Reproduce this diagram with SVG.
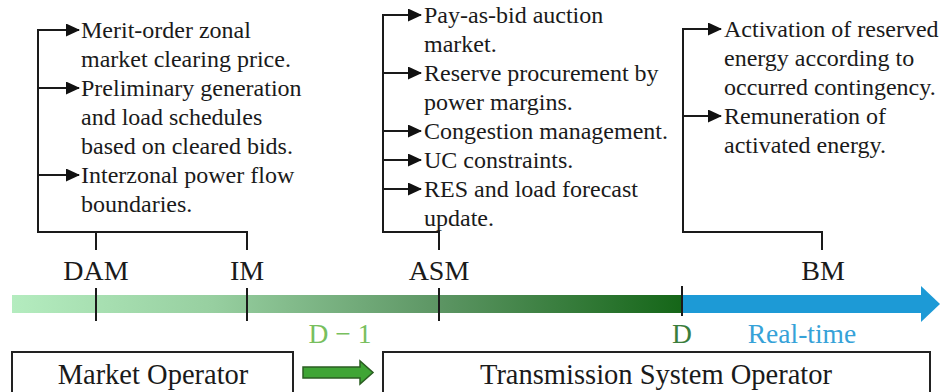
<svg xmlns="http://www.w3.org/2000/svg" width="940" height="392" viewBox="0 0 940 392">
  <defs>
    <linearGradient id="dayAhead" x1="12" y1="0" x2="682" y2="0" gradientUnits="userSpaceOnUse">
      <stop offset="0" stop-color="#b4ecbf"/>
      <stop offset="0.3" stop-color="#97cfa0"/>
      <stop offset="0.64" stop-color="#5c9563"/>
      <stop offset="1" stop-color="#156618"/>
    </linearGradient>
    <marker id="tip" viewBox="0 0 14 13" refX="13" refY="6.5" markerWidth="14" markerHeight="13" markerUnits="userSpaceOnUse" orient="auto">
      <path d="M0,0 L14,6.5 L0,13 Z" fill="#111"/>
    </marker>
    <style>
      .item { font-family: "Liberation Serif", "Times New Roman", serif; font-size: 24px; fill: #1a1a1a; }
      .mkt { font-family: "Liberation Serif", "Times New Roman", serif; font-size: 28px; fill: #1a1a1a; text-anchor: middle; }
      .phase { font-family: "Liberation Serif", "Times New Roman", serif; font-size: 27.5px; text-anchor: middle; }
      .actor { font-family: "Liberation Serif", "Times New Roman", serif; font-size: 28.5px; fill: #1a1a1a; text-anchor: middle; }
      .wire { fill: none; stroke: #1a1a1a; stroke-width: 2; }
      .bullet { fill: none; stroke: #1a1a1a; stroke-width: 2; marker-end: url(#tip); }
      .box { fill: #fff; stroke: #222; stroke-width: 2; }
    </style>
  </defs>

  <!-- timeline bar -->
  <g id="timeline">
    <rect x="12" y="295" width="670" height="18" fill="url(#dayAhead)"/>
    <rect x="682" y="295" width="242" height="18" fill="#1d9ad6"/>
    <polygon points="921,286 940,304 921,322" fill="#1d9ad6"/>
    <line class="wire" x1="96" y1="288" x2="96" y2="321"/>
    <line class="wire" x1="247" y1="288" x2="247" y2="321"/>
    <line class="wire" x1="439" y1="288" x2="439" y2="321"/>
    <line class="wire" x1="682" y1="286" x2="682" y2="316"/>
    <text class="phase" x="340" y="343" fill="#78bf5e">D − 1</text>
    <text class="phase" x="682" y="343" fill="#3a7d3c">D</text>
    <text class="phase" x="802" y="343" fill="#36a2d8">Real-time</text>
  </g>

  <!-- market labels -->
  <g id="DAM"><text class="mkt" x="96" y="280">DAM</text></g>
  <g id="IM"><text class="mkt" x="247" y="280">IM</text></g>
  <g id="ASM"><text class="mkt" x="439" y="280">ASM</text></g>
  <g id="BM"><text class="mkt" x="823" y="280">BM</text></g>

  <!-- day-ahead and intraday tasks -->
  <g id="spot-tasks">
    <text class="item" x="81" y="38">Merit-order zonal</text>
    <text class="item" x="81" y="67">market clearing price.</text>
    <text class="item" x="81" y="96">Preliminary generation</text>
    <text class="item" x="81" y="125">and load schedules</text>
    <text class="item" x="81" y="154">based on cleared bids.</text>
    <text class="item" x="81" y="183">Interzonal power flow</text>
    <text class="item" x="81" y="212">boundaries.</text>
  </g>

  <!-- ancillary services tasks -->
  <g id="asm-tasks">
    <text class="item" x="424" y="23">Pay-as-bid auction</text>
    <text class="item" x="424" y="52">market.</text>
    <text class="item" x="424" y="81">Reserve procurement by</text>
    <text class="item" x="424" y="110">power margins.</text>
    <text class="item" x="424" y="139">Congestion management.</text>
    <text class="item" x="424" y="168">UC constraints.</text>
    <text class="item" x="424" y="197">RES and load forecast</text>
    <text class="item" x="424" y="226">update.</text>
  </g>

  <!-- balancing tasks -->
  <g id="bm-tasks">
    <text class="item" x="724" y="37">Activation of reserved</text>
    <text class="item" x="724" y="66">energy according to</text>
    <text class="item" x="724" y="95">occurred contingency.</text>
    <text class="item" x="724" y="124">Remuneration of</text>
    <text class="item" x="724" y="153">activated energy.</text>
  </g>

  <!-- brackets from each market to its tasks -->
  <g id="connectors">
    <polyline class="wire" points="96,250 96,232 38,232 38,30"/>
    <polyline class="wire" points="247,250 247,232 96,232"/>
    <line class="bullet" x1="37" y1="30" x2="79" y2="30"/>
    <line class="bullet" x1="38" y1="88" x2="79" y2="88"/>
    <line class="bullet" x1="38" y1="175" x2="79" y2="175"/>

    <polyline class="wire" points="439,250 439,232 383,232 383,15"/>
    <line class="bullet" x1="382" y1="15" x2="421" y2="15"/>
    <line class="bullet" x1="383" y1="73" x2="421" y2="73"/>
    <line class="bullet" x1="383" y1="131" x2="421" y2="131"/>
    <line class="bullet" x1="383" y1="160" x2="421" y2="160"/>
    <line class="bullet" x1="383" y1="189" x2="421" y2="189"/>

    <polyline class="wire" points="822,250 822,232 683,232 683,29"/>
    <line class="bullet" x1="682" y1="29" x2="721" y2="29"/>
    <line class="bullet" x1="683" y1="116" x2="721" y2="116"/>
  </g>

  <!-- operators -->
  <g id="market-operator">
    <rect class="box" x="12" y="352" width="281" height="44"/>
    <text class="actor" x="153" y="384">Market Operator</text>
  </g>
  <g id="handover">
    <path d="M303,367 L360,367 L360,361 L373,372.5 L360,384 L360,378 L303,378 Z" fill="#3fa535" stroke="#2b5e22" stroke-width="1.5"/>
  </g>
  <g id="tso">
    <rect class="box" x="383" y="352" width="547" height="44"/>
    <text class="actor" x="656" y="384">Transmission System Operator</text>
  </g>
</svg>
